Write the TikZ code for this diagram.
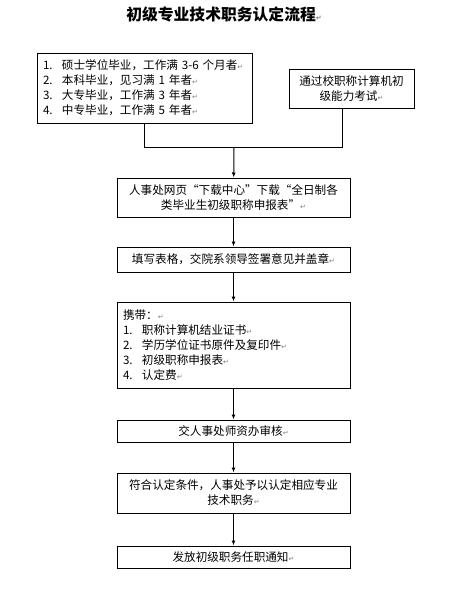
\documentclass[tikz,border=0pt]{standalone}
\usepackage{fontspec}
\usepackage{xcolor}
\setmainfont{Noto Sans CJK SC}
\newfontfamily\cjk{Noto Sans CJK SC}
\newfontfamily\dejavu{DejaVu Sans}
\usetikzlibrary{arrows.meta}
\newcommand{\retmark}{{\color{gray}\dejavu\fontsize{7}{7}\selectfont ↵}}
\newcommand{\itemno}[1]{\makebox[19pt][l]{#1}}

\begin{document}
\begin{tikzpicture}[x=1pt,y=-1pt,
  Box/.style={draw, line width=1pt, inner xsep=6pt, inner ysep=0pt, font=\cjk\fontsize{11.6}{15}\selectfont},
  Flow/.style={-{Latex[length=5pt,width=4pt]}, line width=1pt}]
\useasboundingbox (0,0) rectangle (452,600);
\node (Title) at (224,14) {\cjk\bfseries\fontsize{15.8}{16}\selectfont 初级专业技术职务认定流程\retmark};
\node[Box, minimum width=215pt, minimum height=70pt, text width=203pt, align=left] (Degree) at (144.5,88) {\itemno{1.}硕士学位毕业，工作满 3-6 个月者\retmark\\ \itemno{2.}本科毕业，见习满 1 年者\retmark\\ \itemno{3.}大专毕业，工作满 3 年者\retmark\\ \itemno{4.}中专毕业，工作满 5 年者\retmark};
\node[Box, minimum width=125pt, minimum height=39pt, align=center] (Exam) at (351.5,88.5) {通过校职称计算机初\\级能力考试\retmark};
\coordinate (Merge) at (234,147);
\node[Box, minimum width=233pt, minimum height=39pt, align=center] (Download) at (233.5,197.5) {人事处网页“下载中心”下载“全日制各\\类毕业生初级职称申报表”\retmark};
\node[Box, minimum width=233pt, minimum height=25pt, align=center] (Sign) at (233.5,259.5) {填写表格，交院系领导签署意见并盖章\retmark};
\node[Box, minimum width=233pt, minimum height=86pt, text width=221pt, align=left] (Carry) at (233.5,345) {携带：\retmark\\ \itemno{1.}职称计算机结业证书\retmark\\ \itemno{2.}学历学位证书原件及复印件\retmark\\ \itemno{3.}初级职称申报表\retmark\\ \itemno{4.}认定费\retmark};
\node[Box, minimum width=233pt, minimum height=22pt, align=center] (Review) at (233.5,431) {交人事处师资办审核\retmark};
\node[Box, minimum width=233pt, minimum height=40pt, align=center] (Approve) at (233.5,493) {符合认定条件，人事处予以认定相应专业\\技术职务\retmark};
\node[Box, minimum width=233pt, minimum height=22pt, align=center] (Notice) at (233.5,557) {发放初级职务任职通知\retmark};
\draw[line width=1pt] (Degree.south) |- (Merge);
\draw[line width=1pt] ([xshift=-9.5pt]Exam.south) |- (Merge);
\draw[Flow] (Merge) -- (Download);
\draw[Flow] (Download) -- (Sign);
\draw[Flow] (Sign) -- (Carry);
\draw[Flow] (Carry) -- (Review);
\draw[Flow] (Review) -- (Approve);
\draw[Flow] (Approve) -- (Notice);
\end{tikzpicture}
\end{document}
